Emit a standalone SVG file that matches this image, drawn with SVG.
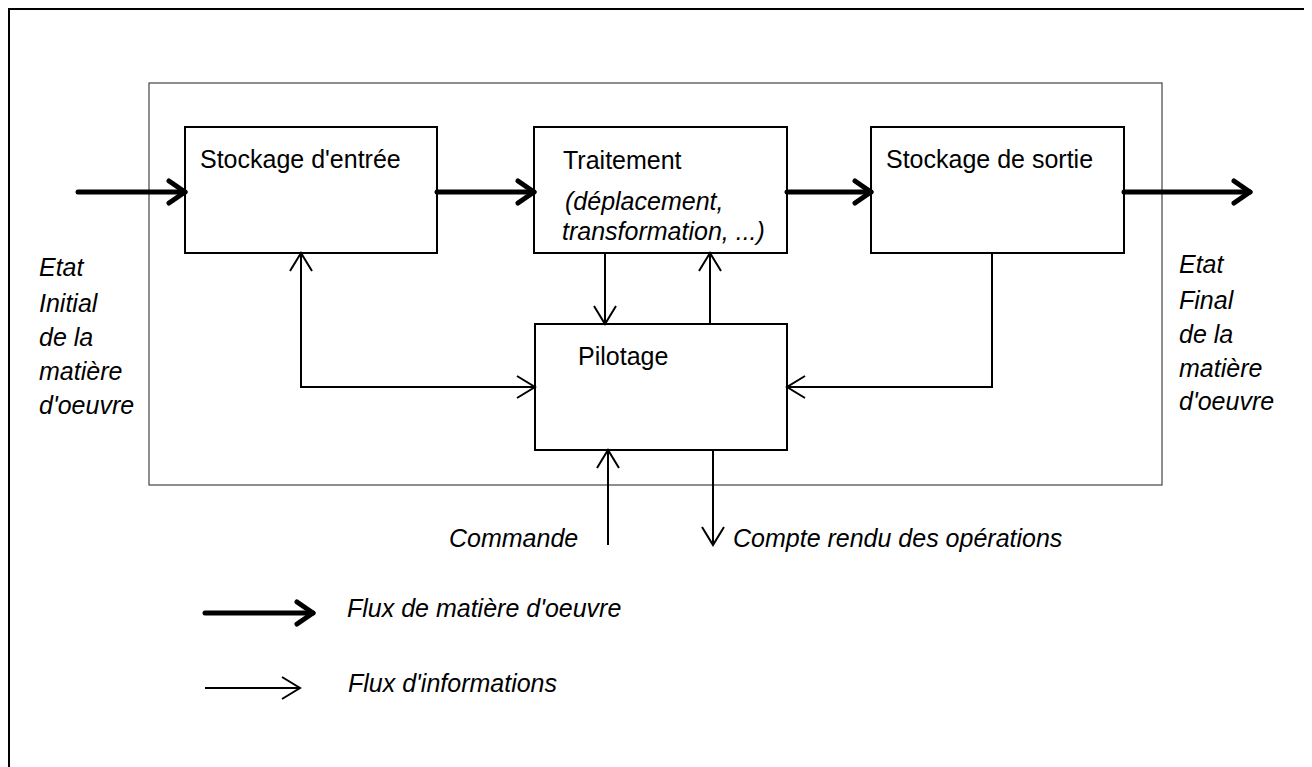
<svg xmlns="http://www.w3.org/2000/svg" width="1312" height="767" viewBox="0 0 1312 767">
<style>
text{font-family:"Liberation Sans",Arial,sans-serif;font-size:25px;fill:#000}
.it{font-style:italic}
.box{fill:#fff;stroke:#000;stroke-width:2}
.thick{fill:none;stroke:#000;stroke-width:5;stroke-linecap:round}
.thin{fill:none;stroke:#000;stroke-width:2}
</style>
<defs>
<marker id="ah" markerUnits="userSpaceOnUse" viewBox="-20 -13 22 26" markerWidth="22" markerHeight="26" refX="0" refY="0" orient="auto-start-reverse" overflow="visible">
<path d="M-18,-11 L0,0 L-18,11" fill="none" stroke="#000" stroke-width="2"/>
</marker>
<marker id="ahT" markerUnits="userSpaceOnUse" viewBox="-20 -13 22 26" markerWidth="22" markerHeight="26" refX="0" refY="0" orient="auto" overflow="visible">
<path d="M-16,-11 L0,0 L-16,11" fill="none" stroke="#000" stroke-width="5" stroke-linecap="round" stroke-linejoin="round"/>
</marker>
</defs>
<rect width="1312" height="767" fill="#fff"/>
<path d="M9,767 V9 H1304" fill="none" stroke="#000" stroke-width="2"/>
<rect id="systeme" x="149" y="83" width="1013" height="402" fill="#fff" stroke="#444" stroke-width="1.2"/>

<g id="stockage-entree"><rect class="box" x="185" y="127" width="252" height="126"/><text x="200" y="168">Stockage d'entrée</text></g>
<g id="traitement"><rect class="box" x="534" y="127" width="253" height="126"/><text x="563" y="169">Traitement</text><text class="it" x="565" y="210">(déplacement,</text><text class="it" x="562" y="240">transformation, ...)</text></g>
<g id="stockage-sortie"><rect class="box" x="871" y="127" width="253" height="126"/><text x="886" y="168">Stockage de sortie</text></g>
<g id="pilotage"><rect class="box" x="535" y="324" width="252" height="126"/><text x="578" y="365">Pilotage</text></g>

<g id="connectors">
<path class="thick" d="M78,192 H185" marker-end="url(#ahT)"/>
<path class="thick" d="M437,192 H534" marker-end="url(#ahT)"/>
<path class="thick" d="M787,192 H871" marker-end="url(#ahT)"/>
<path class="thick" d="M1124,192 H1250" marker-end="url(#ahT)"/>
<path class="thin" d="M301,253 V387 H535" marker-start="url(#ah)" marker-end="url(#ah)"/>
<path class="thin" d="M605,253 V324" marker-end="url(#ah)"/>
<path class="thin" d="M710,324 V253" marker-end="url(#ah)"/>
<path class="thin" d="M992,253 V387 H787" marker-end="url(#ah)"/>
<path class="thin" d="M608,545 V450" marker-end="url(#ah)"/>
<path class="thin" d="M713,450 V545" marker-end="url(#ah)"/>
</g>

<g id="etat-initial">
<text class="it" x="39" y="276">Etat</text>
<text class="it" x="39" y="312">Initial</text>
<text class="it" x="39" y="346">de la</text>
<text class="it" x="39" y="380">matière</text>
<text class="it" x="39" y="414">d'oeuvre</text>
</g>
<g id="etat-final">
<text class="it" x="1179" y="273">Etat</text>
<text class="it" x="1179" y="309">Final</text>
<text class="it" x="1179" y="343">de la</text>
<text class="it" x="1179" y="377">matière</text>
<text class="it" x="1179" y="410">d'oeuvre</text>
</g>
<text class="it" x="449" y="547">Commande</text>
<text class="it" x="733" y="547">Compte rendu des opérations</text>

<g id="legende">
<path class="thick" d="M205,613 H313" marker-end="url(#ahT)"/>
<text class="it" x="347" y="617">Flux de matière d'oeuvre</text>
<path class="thin" d="M205,688 H300" marker-end="url(#ah)"/>
<text class="it" x="348" y="692">Flux d'informations</text>
</g>
</svg>
